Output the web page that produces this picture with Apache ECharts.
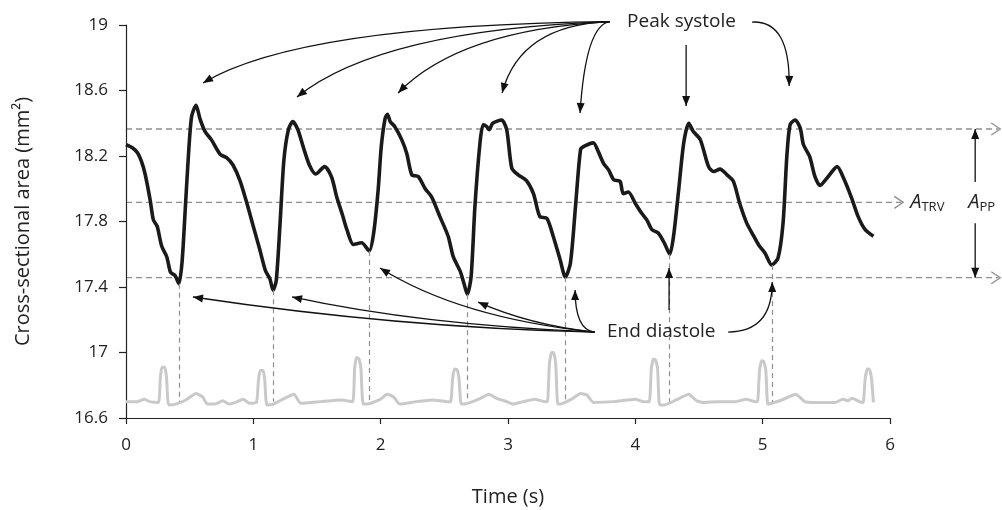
<!DOCTYPE html>
<html>
<head>
<meta charset="utf-8">
<script src="https://cdn.jsdelivr.net/npm/echarts@6/dist/echarts.min.js"></script>
<style>
  html, body { margin: 0; padding: 0; background: #fff; }
  #chart { width: 1002px; height: 510px; }
</style>
</head>
<body>
<div id="chart"></div>
<script>
// 横截面积 (mm²) —— 时间 (s)
const csaTimes = [0.00, 0.05, 0.09, 0.12, 0.15, 0.19, 0.215, 0.245, 0.28, 0.32, 0.35, 0.385, 0.415, 0.44, 0.465, 0.49, 0.515, 0.55, 0.58, 0.62,
  0.67, 0.74, 0.79, 0.84, 0.895, 0.95, 1.00, 1.05, 1.095, 1.13, 1.155, 1.18, 1.21, 1.24, 1.275, 1.31, 1.35, 1.39, 1.44, 1.49,
  1.56, 1.615, 1.655, 1.70, 1.735, 1.785, 1.85, 1.91, 1.945, 1.98, 2.005, 2.035, 2.053, 2.075, 2.11, 2.165, 2.205, 2.245, 2.295, 2.35,
  2.40, 2.465, 2.53, 2.57, 2.625, 2.655, 2.68, 2.71, 2.74, 2.78, 2.805, 2.833, 2.852, 2.88, 2.95, 2.99, 3.03, 3.08, 3.145, 3.20,
  3.25, 3.305, 3.355, 3.41, 3.45, 3.49, 3.53, 3.57, 3.60, 3.67, 3.71, 3.75, 3.79, 3.83, 3.88, 3.905, 3.945, 4.00, 4.05, 4.09,
  4.13, 4.18, 4.23, 4.27, 4.30, 4.34, 4.38, 4.42, 4.455, 4.51, 4.575, 4.615, 4.665, 4.72, 4.77, 4.82, 4.875, 4.93, 4.97, 5.02,
  5.07, 5.12, 5.16, 5.19, 5.215, 5.255, 5.295, 5.32, 5.37, 5.41, 5.45, 5.515, 5.585, 5.635, 5.70, 5.75, 5.805, 5.87];
const csaValues = [18.27, 18.25, 18.22, 18.17, 18.09, 17.93, 17.81, 17.77, 17.65, 17.585, 17.49, 17.47, 17.42, 17.55, 17.87, 18.20, 18.44, 18.51, 18.43, 18.35,
  18.30, 18.21, 18.19, 18.145, 18.05, 17.91, 17.77, 17.63, 17.50, 17.45, 17.38, 17.44, 17.79, 18.175, 18.36, 18.41, 18.36, 18.26, 18.145, 18.09,
  18.135, 18.07, 17.95, 17.84, 17.75, 17.66, 17.67, 17.62, 17.73, 17.99, 18.26, 18.43, 18.455, 18.41, 18.38, 18.30, 18.215, 18.085, 18.075, 18.00,
  17.95, 17.83, 17.71, 17.585, 17.495, 17.42, 17.355, 17.46, 17.89, 18.28, 18.39, 18.38, 18.36, 18.40, 18.42, 18.36, 18.125, 18.085, 18.05, 17.97,
  17.83, 17.82, 17.71, 17.565, 17.46, 17.545, 17.89, 18.24, 18.26, 18.28, 18.225, 18.155, 18.115, 18.055, 18.045, 17.97, 17.98, 17.91, 17.85, 17.81,
  17.75, 17.73, 17.665, 17.60, 17.71, 17.99, 18.28, 18.40, 18.35, 18.30, 18.135, 18.105, 18.12, 18.085, 18.045, 17.91, 17.79, 17.71, 17.655, 17.605,
  17.535, 17.575, 17.79, 18.20, 18.39, 18.42, 18.37, 18.27, 18.195, 18.075, 18.02, 18.075, 18.135, 18.065, 17.94, 17.83, 17.75, 17.71];

// 心电图 (灰色)
const ecgTimes = [0.00, 0.09, 0.145, 0.185, 0.255, 0.27, 0.282, 0.305, 0.318, 0.335, 0.39, 0.47, 0.55, 0.60, 0.64, 0.70, 0.76, 0.81, 0.86, 0.92,
  0.97, 1.025, 1.04, 1.054, 1.078, 1.09, 1.106, 1.16, 1.22, 1.32, 1.37, 1.53, 1.69, 1.78, 1.795, 1.81, 1.83, 1.845, 1.862, 1.90,
  2.00, 2.05, 2.10, 2.15, 2.28, 2.41, 2.52, 2.55, 2.565, 2.58, 2.60, 2.615, 2.632, 2.66, 2.77, 2.85, 2.91, 2.99, 3.04, 3.12,
  3.21, 3.29, 3.31, 3.325, 3.342, 3.358, 3.375, 3.39, 3.41, 3.50, 3.57, 3.62, 3.67, 3.83, 4.00, 4.06, 4.11, 4.125, 4.142, 4.158,
  4.175, 4.19, 4.23, 4.32, 4.42, 4.48, 4.53, 4.64, 4.79, 4.87, 4.94, 4.96, 4.975, 4.992, 5.008, 5.025, 5.04, 5.07, 5.15, 5.26,
  5.33, 5.41, 5.57, 5.63, 5.67, 5.70, 5.78, 5.79, 5.805, 5.822, 5.838, 5.855, 5.87];
const ecgValues = [16.70, 16.70, 16.715, 16.70, 16.695, 16.85, 16.91, 16.91, 16.85, 16.68, 16.685, 16.71, 16.75, 16.73, 16.685, 16.685, 16.705, 16.685, 16.695, 16.715,
  16.69, 16.695, 16.83, 16.89, 16.89, 16.83, 16.68, 16.685, 16.71, 16.745, 16.69, 16.70, 16.71, 16.70, 16.90, 16.97, 16.96, 16.90, 16.685, 16.685,
  16.715, 16.745, 16.73, 16.685, 16.70, 16.71, 16.70, 16.70, 16.84, 16.90, 16.895, 16.84, 16.685, 16.685, 16.715, 16.745, 16.72, 16.70, 16.685, 16.70,
  16.715, 16.70, 16.70, 16.93, 17.00, 17.00, 16.93, 16.685, 16.685, 16.715, 16.75, 16.74, 16.695, 16.70, 16.715, 16.70, 16.70, 16.90, 16.96, 16.955,
  16.90, 16.68, 16.68, 16.71, 16.745, 16.705, 16.695, 16.70, 16.70, 16.715, 16.70, 16.70, 16.89, 16.95, 16.945, 16.89, 16.685, 16.69, 16.71, 16.745,
  16.70, 16.695, 16.695, 16.715, 16.705, 16.72, 16.695, 16.695, 16.84, 16.90, 16.90, 16.84, 16.695];

// 舒张末期 (最低点) —— 竖直虚线
const minTimes = [0.415, 1.155, 1.91, 2.68, 3.45, 4.27, 5.075];
const minValues = [17.42, 17.38, 17.62, 17.355, 17.46, 17.60, 17.535];
const ecgBase = 16.70;

// 水平参考线: 峰值平均 / 均值 A_TRV / 谷值平均
const refLevels = [18.365, 17.917, 17.457];
const refEnds = [6.866, 6.104, 6.866];

const yTicks = [16.6, 17, 17.4, 17.8, 18.2, 18.6, 19];

// 注释箭头 (数据坐标)
const peakLabel = 'Peak systole';
const peakLabelPos = [3.935, 19.018];
const peakSource = [3.80, 19.02];
const peakTips = [[0.605, 18.646], [1.343, 18.56], [2.137, 18.585], [2.954, 18.585], [3.566, 18.463]];
const peakCtrls = [[1.37, 19.0], [2.0, 18.97], [2.62, 18.97], [3.095, 19.0], [3.61, 19.0]];
const peakStraight = [[4.399, 18.878], [4.399, 18.505]];
const peakRight = [[4.917, 19.018], [5.216, 19.03], [5.208, 18.628]];

const endLabel = 'End diastole';
const endLabelPos = [3.778, 17.125];
const endSource = [3.68, 17.125];
const endTips = [[0.526, 17.339], [1.304, 17.339], [1.995, 17.516], [2.765, 17.308], [3.527, 17.382]];
const endCtrls = [[2.152, 17.15], [2.31, 17.168], [2.624, 17.21], [3.174, 17.168], [3.527, 17.137]];
const endStraight = [[4.265, 17.26], [4.265, 17.516]];
const endRight = [[4.729, 17.125], [5.075, 17.125], [5.075, 17.43]];

const trvLabelPos = [6.159, 17.917];
const ppLabelPos = [6.614, 17.917];
const ppArrowX = 6.669;
const ppGap = [18.041, 17.79];

const FONT = '"Open Sans", "Noto Sans", sans-serif';

const chart = echarts.init(document.getElementById('chart'));

const option = {
  animation: false,
  backgroundColor: '#fff',
  grid: { left: 126, right: 112, top: 25, bottom: 92, containLabel: false, outerBoundsMode: 'none' },
  xAxis: {
    type: 'value', min: 0, max: 6, interval: 1,
    name: 'Time (s)', nameLocation: 'middle', nameGap: 69,
    nameTextStyle: { fontSize: 20, color: '#222', fontFamily: FONT },
    axisLine: { lineStyle: { color: '#222', width: 1.2 } },
    axisTick: { length: 6, lineStyle: { color: '#222', width: 1.2 } },
    axisLabel: { fontSize: 17, color: '#222', margin: 19, fontFamily: FONT },
    splitLine: { show: false }
  },
  yAxis: {
    type: 'value', min: 16.6, max: 19,
    name: 'Cross-sectional area (mm²)', nameLocation: 'middle', nameGap: 93, nameRotate: 90,
    nameTextStyle: { fontSize: 20, color: '#222', fontFamily: FONT },
    axisLine: { show: true, lineStyle: { color: '#222', width: 1.2 } },
    axisTick: { show: true, length: 7, customValues: yTicks, lineStyle: { color: '#222', width: 1.2 } },
    axisLabel: { fontSize: 17, color: '#222', margin: 18, customValues: yTicks, fontFamily: FONT },
    splitLine: { show: false }
  },
  series: [
    {
      name: 'ECG', type: 'line', z: 1,
      data: ecgTimes.map((t, i) => [t, ecgValues[i]]),
      showSymbol: false, smooth: 0.15,
      lineStyle: { color: '#c9c9c9', width: 3 },
      markLine: {
        silent: true, symbol: ['none', 'none'], label: { show: false },
        lineStyle: { color: '#8f8f8f', width: 1.2, type: [5, 4] },
        data: minTimes.map((t, i) => [{ coord: [t, minValues[i]] }, { coord: [t, ecgBase] }])
      }
    },
    {
      name: 'CSA', type: 'line', z: 3,
      data: csaTimes.map((t, i) => [t, csaValues[i]]),
      showSymbol: false, smooth: 0.25,
      lineStyle: { color: '#1a1a1a', width: 3.6 }
    }
  ]
};

chart.setOption(option);

const P = (p) => chart.convertToPixel({ gridIndex: 0 }, p);

function head(tip, from, len, half) {
  const dx = tip[0] - from[0], dy = tip[1] - from[1];
  const d = Math.hypot(dx, dy) || 1;
  const ux = dx / d, uy = dy / d;
  const bx = tip[0] - ux * len, by = tip[1] - uy * len;
  return {
    type: 'polygon', z: 20, silent: true,
    shape: { points: [tip, [bx - uy * half, by + ux * half], [bx + uy * half, by - ux * half]] },
    style: { fill: '#111' }
  };
}
function curveArrow(a, c, b) {
  const pa = P(a), pc = P(c), pb = P(b);
  return [
    { type: 'bezierCurve', z: 20, silent: true,
      shape: { x1: pa[0], y1: pa[1], cpx1: pc[0], cpy1: pc[1], x2: pb[0], y2: pb[1] },
      style: { stroke: '#111', lineWidth: 1.3, fill: null } },
    head(pb, pc, 10, 4)
  ];
}
function straightArrow(a, b) {
  const pa = P(a), pb = P(b);
  return [
    { type: 'line', z: 20, silent: true,
      shape: { x1: pa[0], y1: pa[1], x2: pb[0], y2: pb[1] },
      style: { stroke: '#111', lineWidth: 1.3 } },
    head(pb, pa, 10, 4)
  ];
}

const g = [];
// 水平虚线 + 开口箭头
refLevels.forEach((lv, i) => {
  const a = P([0, lv]), b = P([refEnds[i], lv]);
  g.push({ type: 'line', z: 0, silent: true,
    shape: { x1: a[0], y1: a[1], x2: b[0] - 2, y2: b[1] },
    style: { stroke: '#8f8f8f', lineWidth: 1.3, lineDash: [6, 4] } });
  g.push({ type: 'polyline', z: 0, silent: true,
    shape: { points: [[b[0] - 9, b[1] - 6], b, [b[0] - 9, b[1] + 6]] },
    style: { stroke: '#8f8f8f', lineWidth: 1.3, fill: null } });
});

// Peak systole
peakTips.forEach((tp, i) => g.push(...curveArrow(peakSource, peakCtrls[i], tp)));
g.push(...straightArrow(peakStraight[0], peakStraight[1]));
g.push(...curveArrow(peakRight[0], peakRight[1], peakRight[2]));
const pl = P(peakLabelPos);
g.push({ type: 'text', z: 21, silent: true, x: pl[0], y: pl[1],
  style: { text: peakLabel, font: '19px ' + FONT, fill: '#222', align: 'left', verticalAlign: 'middle' } });

// End diastole
endTips.forEach((tp, i) => g.push(...curveArrow(endSource, endCtrls[i], tp)));
g.push(...straightArrow(endStraight[0], endStraight[1]));
g.push(...curveArrow(endRight[0], endRight[1], endRight[2]));
const el = P(endLabelPos);
g.push({ type: 'text', z: 21, silent: true, x: el[0], y: el[1],
  style: { text: endLabel, font: '19px ' + FONT, fill: '#222', align: 'left', verticalAlign: 'middle' } });

// A_TRV / A_PP
function subLabel(pos, sub) {
  const p = P(pos);
  return { type: 'text', z: 21, silent: true, x: p[0], y: p[1],
    style: {
      text: '{a|A}{s|' + sub + '}', align: 'left', verticalAlign: 'middle',
      rich: {
        a: { fontSize: 20, fontStyle: 'italic', fontFamily: FONT, fill: '#222', color: '#222' },
        s: { fontSize: 13, fontFamily: FONT, fill: '#222', color: '#222', padding: [9, 0, 0, 0] }
      }
    } };
}
g.push(subLabel(trvLabelPos, 'TRV'));
g.push(subLabel(ppLabelPos, 'PP'));
g.push(...straightArrow([ppArrowX, ppGap[0]], [ppArrowX, refLevels[0]]));
g.push(...straightArrow([ppArrowX, ppGap[1]], [ppArrowX, refLevels[2]]));

chart.setOption({ graphic: { elements: g } });
</script>
</body>
</html>
